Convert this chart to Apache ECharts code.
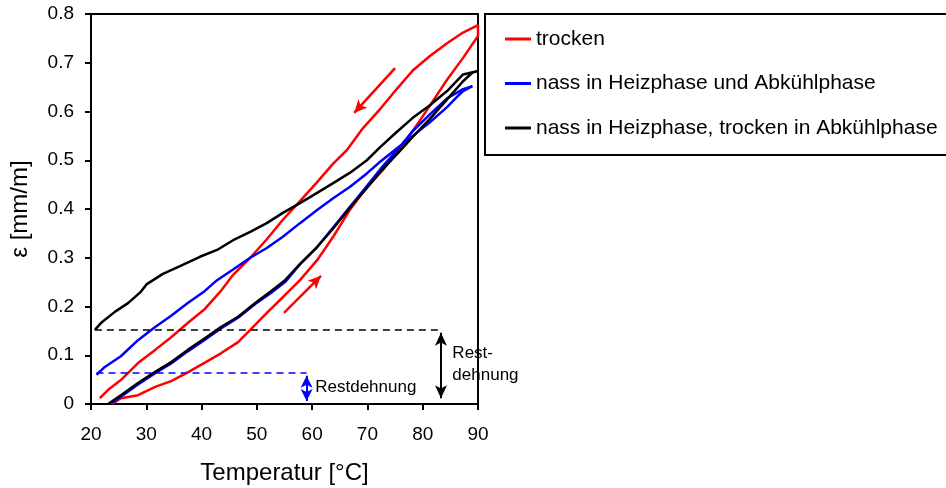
<!DOCTYPE html>
<html>
<head>
<meta charset="utf-8">
<script src="https://cdn.jsdelivr.net/npm/echarts@6/dist/echarts.min.js"></script>
<style>
html,body{margin:0;padding:0;background:#fff;}
#chart{width:946px;height:488px;}
</style>
</head>
<body>
<div id="chart"></div>
<script>
// ---- Data ----
var seriesNames = ['trocken', 'nass in Heizphase und Abkühlphase', 'nass in Heizphase, trocken in Abkühlphase'];

// trocken: heating branch then cooling branch [T, eps]
var redHeat = [[23.8,0.0],[25.4,0.012],[28.5,0.018],[31.6,0.035],[34.5,0.047],[37.5,0.065],[40.6,0.085],[43.5,0.104],[46.6,0.127],[48.8,0.152],[51.8,0.187],[54.7,0.219],[57.8,0.254],[60.9,0.295],[63.8,0.343],[66.8,0.398],[69.9,0.445],[72.8,0.48],[75.5,0.52],[78.2,0.56],[81.3,0.612],[84.4,0.665],[87.3,0.71],[90,0.755]];
var redCool = [[90,0.777],[87.3,0.762],[84.4,0.74],[81.3,0.714],[78.2,0.684],[75.3,0.646],[72.3,0.605],[69.2,0.566],[66.3,0.521],[63.8,0.493],[60.9,0.455],[57.8,0.416],[54.7,0.378],[51.8,0.338],[48.8,0.3],[45.7,0.265],[43.5,0.232],[40.6,0.195],[37.5,0.166],[34.5,0.137],[31.6,0.111],[28.5,0.084],[25.4,0.049],[23.1,0.029],[21.6,0.012]];

// nass in Heizphase und Abkühlphase
var blueHeat = [[23.5,0.0],[25.4,0.015],[28.5,0.04],[31.6,0.063],[34.5,0.083],[37.5,0.108],[40.6,0.132],[43.5,0.155],[46.6,0.177],[49.7,0.205],[52.6,0.228],[55.1,0.25],[57.8,0.287],[60.9,0.322],[63.8,0.362],[66.8,0.404],[69.9,0.447],[72.8,0.488],[75.3,0.52],[78.2,0.56],[81.3,0.594],[84.4,0.627],[87.3,0.646],[89,0.652]];
var blueCool = [[89,0.648],[87.3,0.642],[86.2,0.63],[84.4,0.609],[81.3,0.578],[78.2,0.55],[75.3,0.524],[72.3,0.497],[69.9,0.473],[66.8,0.445],[63.8,0.422],[60.9,0.398],[57.8,0.371],[54.7,0.343],[51.8,0.32],[48.8,0.3],[45.7,0.276],[42.8,0.254],[40.6,0.232],[37.5,0.207],[34.5,0.181],[31.6,0.158],[28.5,0.131],[25.4,0.098],[22.5,0.076],[21,0.06]];

// nass in Heizphase, trocken in Abkühlphase
var blackHeat = [[23.1,0.0],[25.4,0.018],[28.5,0.043],[31.6,0.066],[34.5,0.086],[37.5,0.111],[40.6,0.135],[43.5,0.158],[46.6,0.179],[49.7,0.207],[52.6,0.232],[55.1,0.254],[57.8,0.287],[60.9,0.322],[63.8,0.36],[66.8,0.402],[69.9,0.443],[72.8,0.482],[75.3,0.512],[78.2,0.548],[81.3,0.585],[84.4,0.625],[87.3,0.662],[89,0.68],[90,0.683]];
var blackCool = [[90,0.685],[87.3,0.676],[84.4,0.642],[81.3,0.613],[78.2,0.587],[75.3,0.558],[72.3,0.527],[69.9,0.5],[66.8,0.474],[63.8,0.453],[60.9,0.433],[57.8,0.412],[54.7,0.392],[51.8,0.371],[48.8,0.353],[45.7,0.336],[42.8,0.316],[39.7,0.302],[36.1,0.283],[33,0.267],[30.1,0.246],[29,0.23],[26.7,0.207],[24.3,0.189],[21.8,0.166],[20.7,0.152]];

// annotations
var blackRest = 0.153;   // Restdehnung level (black)
var blueRest = 0.064;    // Restdehnung level (blue)
var blackArrowT = 83.3;
var blueArrowT = 59.0;
var redArrowDown = [[75.0,0.689],[67.6,0.597]];
var redArrowUp = [[54.9,0.187],[61.6,0.263]];

var xTicks = {min:20, max:90, interval:10};
var yTicks = {min:0, max:0.8, interval:0.1};

// ---- Chart ----
var FONT = "'Liberation Sans', Arial, sans-serif";
var chart = echarts.init(document.getElementById('chart'), null, {renderer:'canvas'});

function arrowLine(a, b, color, startSym, endSym){
  return [
    {coord:a, symbol:startSym, symbolSize:[9,13], lineStyle:{color:color}},
    {coord:b, symbol:endSym, symbolSize:[9,13]}
  ];
}

var option = {
  animation:false,
  textStyle:{fontFamily:FONT},
  grid:{left:91, right:468, top:14, bottom:84, show:false, containLabel:false, outerBoundsMode:'none'},
  legend:{
    orient:'vertical', left:485, top:14,
    padding:[13,10,15,20],
    borderColor:'#000', borderWidth:2,
    icon:'rect',
    itemWidth:26, itemHeight:3, itemGap:20.5,
    textStyle:{fontFamily:FONT, fontSize:21, color:'#000', lineHeight:24},
    data:seriesNames
  },
  xAxis:[{
    type:'value', min:xTicks.min, max:xTicks.max, interval:xTicks.interval,
    name:'Temperatur [°C]', nameLocation:'middle', nameGap:57,
    nameTextStyle:{fontFamily:FONT, fontSize:24, color:'#000'},
    axisLine:{show:true, onZero:false, lineStyle:{color:'#000', width:2}},
    axisTick:{show:true, inside:false, length:6, lineStyle:{color:'#000', width:2}},
    axisLabel:{fontFamily:FONT, fontSize:19, color:'#000', margin:21},
    splitLine:{show:false}
  },{
    type:'value', position:'top', min:xTicks.min, max:xTicks.max,
    axisLine:{show:true, onZero:false, lineStyle:{color:'#000', width:2}},
    axisTick:{show:false}, axisLabel:{show:false}, splitLine:{show:false}
  }],
  yAxis:[{
    type:'value', min:yTicks.min, max:yTicks.max, interval:yTicks.interval,
    name:'ε [mm/m]', nameLocation:'middle', nameGap:59, nameRotate:90,
    nameTextStyle:{fontFamily:FONT, fontSize:24, color:'#000'},
    axisLine:{show:true, onZero:false, lineStyle:{color:'#000', width:2}},
    axisTick:{show:true, length:6, lineStyle:{color:'#000', width:2}},
    axisLabel:{fontFamily:FONT, fontSize:19, color:'#000', margin:17,
      formatter:function(v){ return v===0 ? '0' : v.toFixed(1); }},
    splitLine:{show:false}
  },{
    type:'value', position:'right', min:yTicks.min, max:yTicks.max,
    axisLine:{show:true, onZero:false, lineStyle:{color:'#000', width:2}},
    axisTick:{show:false}, axisLabel:{show:false}, splitLine:{show:false}
  }],
  series:[
    {
      name:seriesNames[0], type:'line', symbol:'none', z:2,
      data:redHeat.concat(redCool),
      lineStyle:{color:'#ff0000', width:2.5}, itemStyle:{color:'#ff0000'},
      markLine:{
        silent:true, symbol:['none','none'], label:{show:false},
        lineStyle:{color:'#ff0000', width:2.5, type:'solid'},
        data:[
          arrowLine(redArrowDown[0], redArrowDown[1], '#ff0000', 'none', 'arrow'),
          arrowLine(redArrowUp[0], redArrowUp[1], '#ff0000', 'none', 'arrow')
        ]
      }
    },
    {
      name:seriesNames[1], type:'line', symbol:'none', z:3,
      data:blueHeat.concat(blueCool),
      lineStyle:{color:'#0000ff', width:2.5}, itemStyle:{color:'#0000ff'},
      markLine:{
        silent:true, symbol:['none','none'], label:{show:false},
        lineStyle:{color:'#0000ff', width:1.5, type:[7,5]},
        data:[
          [{coord:[21,blueRest]},{coord:[blueArrowT,blueRest]}],
          [{coord:[blueArrowT,0.058], symbol:'arrow', symbolSize:[9,12], lineStyle:{type:'solid', width:2}},
           {coord:[blueArrowT,0.006], symbol:'arrow', symbolSize:[9,12]}]
        ]
      },
      markPoint:{
        silent:true, symbol:'circle', symbolSize:0,
        label:{show:true, position:'right', distance:2, color:'#000', fontFamily:FONT, fontSize:17, formatter:'Restdehnung'},
        data:[{coord:[blueArrowT+1.2, 0.035]}]
      }
    },
    {
      name:seriesNames[2], type:'line', symbol:'none', z:4,
      data:blackHeat.concat(blackCool),
      lineStyle:{color:'#000000', width:2.5}, itemStyle:{color:'#000000'},
      markLine:{
        silent:true, symbol:['none','none'], label:{show:false},
        lineStyle:{color:'#000', width:1.5, type:[7,5]},
        data:[
          [{coord:[20.7,blackRest]},{coord:[blackArrowT,blackRest]}],
          [{coord:[blackArrowT,0.146], symbol:'arrow', symbolSize:[9,13], lineStyle:{type:'solid', width:2}},
           {coord:[blackArrowT,0.012], symbol:'arrow', symbolSize:[9,13]}]
        ]
      },
      markPoint:{
        silent:true, symbol:'circle', symbolSize:0,
        label:{show:true, position:'right', distance:2, color:'#000', fontFamily:FONT, fontSize:17, lineHeight:22, formatter:'Rest-\ndehnung'},
        data:[{coord:[blackArrowT+1.7, 0.082]}]
      }
    }
  ]
};
chart.setOption(option);
</script>
</body>
</html>
